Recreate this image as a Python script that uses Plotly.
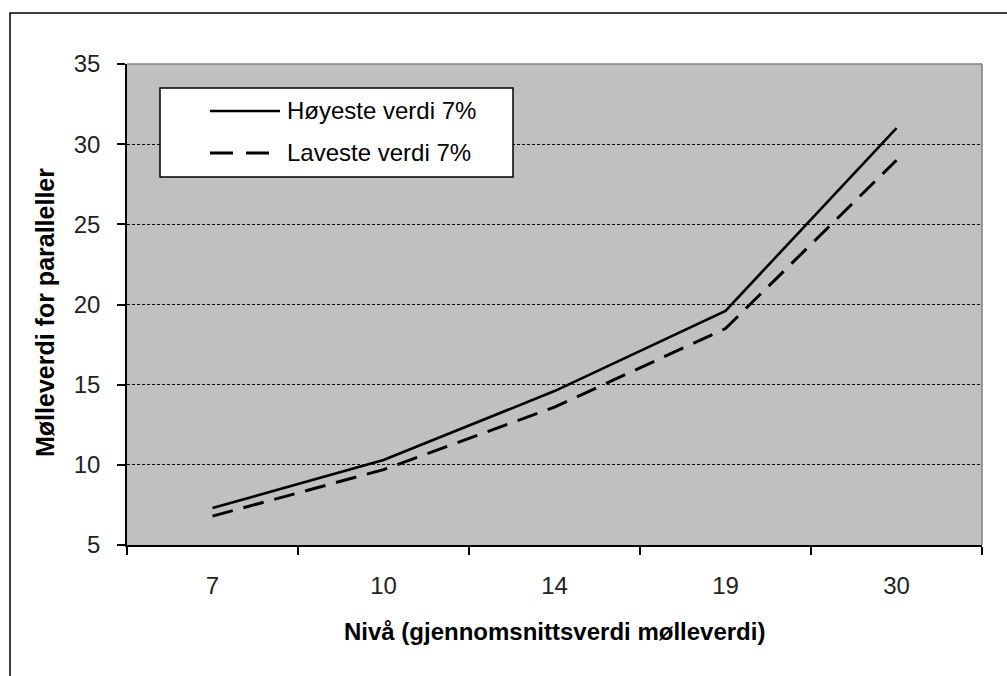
import plotly.graph_objects as go

# Levels (category axis) and the two series
niva = ["7", "10", "14", "19", "30"]
hoyeste = [7.3, 10.3, 14.6, 19.6, 31.0]
laveste = [6.8, 9.7, 13.6, 18.5, 29.0]

y_ticks = [5, 10, 15, 20, 25, 30, 35]
series_names = ["Høyeste verdi 7%", "Laveste verdi 7%"]

W, H = 1007, 676
L, R, T, B = 127, 25, 64, 131
pw, ph = W - L - R, H - T - B


def px_x(x):
    return (x - L) / pw


def px_y(y):
    return (H - B - y) / ph


FONT = "Liberation Sans, Arial, sans-serif"
TICK_FONT = dict(family=FONT, size=24, color="#222")

fig = go.Figure()
fig.add_trace(go.Scatter(x=niva, y=hoyeste, mode="lines", name=series_names[0],
                         line=dict(color="black", width=2.6)))
fig.add_trace(go.Scatter(x=niva, y=laveste, mode="lines", name=series_names[1],
                         line=dict(color="black", width=3, dash="21px,11px")))

fig.update_layout(
    width=W, height=H,
    margin=dict(l=L, r=R, t=T, b=B),
    paper_bgcolor="white",
    plot_bgcolor="#c0c0c0",
    showlegend=False,
    font=dict(family=FONT, size=24, color="black"),
)

fig.update_xaxes(
    type="category", range=[-0.5, 4.5], tickson="boundaries",
    ticks="outside", ticklen=8, tickwidth=1.5, tickcolor="black",
    showline=True, linecolor="black", linewidth=1.5,
    showgrid=False, zeroline=False,
    tickfont=TICK_FONT, ticklabelstandoff=18,
)
fig.update_yaxes(
    range=[5, 35], tickvals=y_ticks,
    ticks="outside", ticklen=8, tickwidth=1.5, tickcolor="black",
    showline=True, linecolor="black", linewidth=1.5,
    showgrid=True, gridcolor="black", gridwidth=1, griddash="3px,2px",
    zeroline=False,
    tickfont=TICK_FONT, ticklabelstandoff=12,
)

shapes = [
    # top and right edges of the plot area
    dict(type="line", xref="paper", yref="paper", x0=0, x1=1, y0=1, y1=1,
         line=dict(color="#808080", width=1.5)),
    dict(type="line", xref="paper", yref="paper", x0=1, x1=1, y0=0, y1=1,
         line=dict(color="#808080", width=1.5)),
    # outer chart frame
    dict(type="rect", xref="paper", yref="paper",
         x0=px_x(10), x1=px_x(1100), y0=px_y(800), y1=px_y(13),
         line=dict(color="black", width=1.5)),
    # legend box
    dict(type="rect", xref="paper", yref="paper",
         x0=px_x(160), x1=px_x(513), y0=px_y(177), y1=px_y(88),
         fillcolor="white", line=dict(color="black", width=1.5), layer="above"),
    # legend samples
    dict(type="line", xref="paper", yref="paper",
         x0=px_x(210), x1=px_x(280), y0=px_y(111), y1=px_y(111),
         line=dict(color="black", width=2.6), layer="above"),
    dict(type="line", xref="paper", yref="paper",
         x0=px_x(210), x1=px_x(269), y0=px_y(153), y1=px_y(153),
         line=dict(color="black", width=3, dash="23px,13px"), layer="above"),
]
fig.update_layout(shapes=shapes)

annotations = [
    dict(text=series_names[0], xref="paper", yref="paper",
         x=px_x(285), y=px_y(111), xanchor="left", yanchor="middle",
         showarrow=False, font=dict(family=FONT, size=24, color="black")),
    dict(text=series_names[1], xref="paper", yref="paper",
         x=px_x(285), y=px_y(153), xanchor="left", yanchor="middle",
         showarrow=False, font=dict(family=FONT, size=24, color="black")),
    dict(text="<b>Nivå (gjennomsnittsverdi mølleverdi)</b>", xref="paper", yref="paper",
         x=px_x(554), y=px_y(631), xanchor="center", yanchor="middle",
         showarrow=False, font=dict(family=FONT, size=24, color="black")),
    dict(text="<b>Mølleverdi for paralleller</b>", xref="paper", yref="paper",
         x=px_x(45), y=px_y(313), xanchor="center", yanchor="middle", textangle=-90,
         showarrow=False, font=dict(family=FONT, size=25, color="black")),
]
fig.update_layout(annotations=annotations)

fig.write_html("out.html")
